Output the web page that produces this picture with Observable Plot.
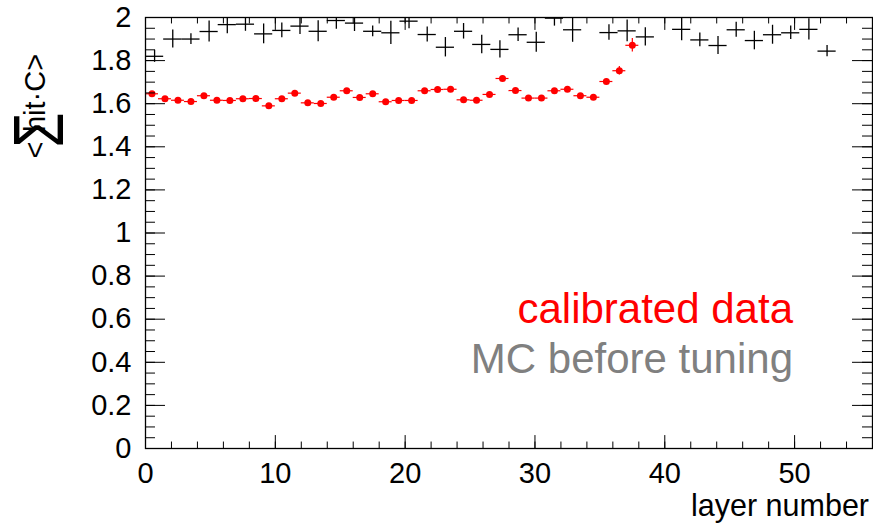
<!DOCTYPE html>
<html><head><meta charset="utf-8">
<script src="https://cdn.jsdelivr.net/npm/d3@7"></script>
<script src="https://cdn.jsdelivr.net/npm/@observablehq/plot@0.6"></script>
<style>body{margin:0;background:#fff;} #chart svg{display:block;}</style>
</head><body><div id="chart"></div>
<script>
// calibrated data: one bin per layer
const dataLayer = [0.5,1.5,2.5,3.5,4.5,5.5,6.5,7.5,8.5,9.5,10.5,11.5,12.5,13.5,14.5,15.5,16.5,17.5,18.5,19.5,
  20.5,21.5,22.5,23.5,24.5,25.5,26.5,27.5,28.5,29.5,30.5,31.5,32.5,33.5,34.5,35.5,36.5,37.5];
const dataValue = [1.646,1.623,1.616,1.610,1.637,1.616,1.615,1.623,1.624,1.590,1.623,1.649,1.604,1.601,1.630,1.660,1.629,1.646,1.609,
  1.615,1.615,1.660,1.666,1.667,1.618,1.616,1.643,1.717,1.661,1.626,1.626,1.660,1.667,1.637,1.630,1.703,1.753,1.871];
const dataError = [0.008,0.008,0.008,0.008,0.008,0.008,0.008,0.008,0.008,0.008,0.008,0.008,0.008,0.008,0.008,0.008,0.008,0.008,0.008,
  0.008,0.008,0.008,0.008,0.008,0.008,0.008,0.008,0.008,0.008,0.008,0.008,0.008,0.008,0.008,0.008,0.012,0.02,0.031];
const dataHalfWidth = 0.5;

// MC before tuning: 40 bins of width 1.4 over 0..56
const mcCenter = [0.7,2.1,3.5,4.9,6.3,7.7,9.1,10.5,11.9,13.3,14.7,16.1,17.5,18.9,20.3,21.7,23.1,24.5,25.9,27.3,
  28.7,30.1,31.5,32.9,34.3,35.7,37.1,38.5,39.9,41.3,42.7,44.1,45.5,46.9,48.3,49.7,51.1,52.5];
const mcValue = [1.82,1.90,1.90,1.935,1.967,1.969,1.924,1.94,1.96,1.936,1.986,1.974,1.936,1.929,1.983,1.921,1.862,1.936,1.875,1.852,
  1.92,1.885,1.997,1.943,null,1.93,1.938,1.91,null,1.945,1.896,1.87,1.943,1.893,1.92,1.929,1.945,1.844];
const mcError = [0.028,0.042,0.025,0.049,0.042,0.033,0.046,0.034,0.039,0.049,0.04,0.039,0.025,0.054,0.035,0.035,0.045,0.036,0.043,0.040,
  0.031,0.046,0.037,0.058,null,0.036,0.05,0.042,null,0.053,0.032,0.042,0.035,0.043,0.044,0.031,0.049,0.026];
const mcHalfWidth = 0.7;

const xDomain = [0, 56];
const yDomain = [0, 2];
const xMajor = [0,10,20,30,40,50];
const xMinor = d3.range(0, 57, 2);
const yMajor = [0,0.2,0.4,0.6,0.8,1,1.2,1.4,1.6,1.8,2];
const yMinor = d3.range(0, 2.001, 0.05);
const xLabel = "layer number";
const legendData = "calibrated data";
const legendMC = "MC before tuning";

const dataRows = dataLayer.map((x, i) => ({x, y: dataValue[i], e: dataError[i]}));
const mcRows = mcCenter.map((x, i) => ({x, y: mcValue[i], e: mcError[i]})).filter(d => d.y != null);

// ROOT-style tick lengths as fraction of the axis span
const tickFracX = 0.03, tickFracY = 0.0275;
const xSpan = xDomain[1] - xDomain[0], ySpan = yDomain[1] - yDomain[0];
const tickStyle = {stroke: "black", strokeWidth: 1};

const W = 873, H = 524;
const plot = Plot.plot({
  width: W, height: H,
  marginLeft: 145, marginRight: 1, marginTop: 17, marginBottom: 76,
  x: {domain: xDomain},
  y: {domain: yDomain},
  style: {fontFamily: "'Liberation Sans', Arial, Helvetica, sans-serif", fontSize: "29px", background: "white", color: "black"},
  marks: [
    // MC crosses
    Plot.ruleY(mcRows, {y: "y", x1: d => d.x - mcHalfWidth, x2: d => d.x + mcHalfWidth, stroke: "black", strokeWidth: 1.3, clip: true}),
    Plot.ruleX(mcRows, {x: "x", y1: d => d.y - d.e, y2: d => d.y + d.e, stroke: "black", strokeWidth: 1.3, clip: true}),
    // calibrated data
    Plot.ruleY(dataRows, {y: "y", x1: d => d.x - dataHalfWidth, x2: d => d.x + dataHalfWidth, stroke: "red", strokeWidth: 1.2}),
    Plot.ruleX(dataRows, {x: "x", y1: d => d.y - d.e, y2: d => d.y + d.e, stroke: "red", strokeWidth: 1.2}),
    Plot.dot(dataRows, {x: "x", y: "y", r: 3.5, fill: "red", stroke: "none"}),
    // inward ticks: bottom/top
    Plot.ruleX(xMajor, {x: d => d, y1: yDomain[0], y2: yDomain[0] + ySpan * tickFracX, ...tickStyle}),
    Plot.ruleX(xMinor, {x: d => d, y1: yDomain[0], y2: yDomain[0] + ySpan * tickFracX / 2, ...tickStyle}),
    Plot.ruleX(xMajor, {x: d => d, y1: yDomain[1], y2: yDomain[1] - ySpan * tickFracX, ...tickStyle}),
    Plot.ruleX(xMinor, {x: d => d, y1: yDomain[1], y2: yDomain[1] - ySpan * tickFracX / 2, ...tickStyle}),
    // inward ticks: left/right
    Plot.ruleY(yMajor, {y: d => d, x1: xDomain[0], x2: xDomain[0] + xSpan * tickFracY, ...tickStyle}),
    Plot.ruleY(yMinor, {y: d => d, x1: xDomain[0], x2: xDomain[0] + xSpan * tickFracY / 2, ...tickStyle}),
    Plot.ruleY(yMajor, {y: d => d, x1: xDomain[1], x2: xDomain[1] - xSpan * tickFracY, ...tickStyle}),
    Plot.ruleY(yMinor, {y: d => d, x1: xDomain[1], x2: xDomain[1] - xSpan * tickFracY / 2, ...tickStyle}),
    // tick labels
    Plot.axisX(xMajor, {anchor: "bottom", tickSize: 0, tickPadding: 14, label: null, tickFormat: d => String(d)}),
    Plot.axisY(yMajor, {anchor: "left", tickSize: 0, tickPadding: 14, label: null, tickFormat: d => String(+d.toFixed(1))}),
    Plot.frame({stroke: "black", strokeWidth: 1.3})
  ]
});
document.getElementById("chart").append(plot);

const svg = d3.select(plot);
const ff = "'Liberation Sans', Arial, Helvetica, sans-serif";
// x axis title
svg.append("text").attr("x", 869).attr("y", 516).attr("text-anchor", "end")
  .attr("font-family", ff).attr("font-size", 30.5).attr("fill", "black").text(xLabel);
// legend
svg.append("text").attr("x", 793).attr("y", 323).attr("text-anchor", "end")
  .attr("font-family", ff).attr("font-size", 42).attr("fill", "#ff0000").text(legendData);
svg.append("text").attr("x", 793).attr("y", 373).attr("text-anchor", "end")
  .attr("font-family", ff).attr("font-size", 42).attr("fill", "#808080").text(legendMC);
// y axis title  < Σ hit·C >
const g = svg.append("g").attr("transform", "translate(45,150) rotate(-90)")
  .attr("font-family", ff).attr("fill", "black");
g.append("text").attr("x", 0).attr("y", 0).attr("font-size", 29).text("<");
g.append("text").attr("transform", "translate(20,18) scale(0.8,1)").attr("font-size", 71).text("\u03A3");
g.append("text").attr("x", 57).attr("y", 0).attr("font-size", 29).text("hit\u00B7C>");
</script>
</body></html>
